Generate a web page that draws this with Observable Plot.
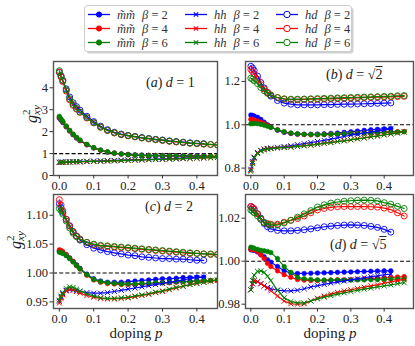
<!DOCTYPE html>
<html><head><meta charset="utf-8">
<script src="https://cdn.jsdelivr.net/npm/d3@7"></script>
<script src="https://cdn.jsdelivr.net/npm/@observablehq/plot@0.6"></script>
<style>
body{margin:0;background:#fff;}
#wrap{position:relative;width:415px;height:346px;overflow:hidden;font-family:"Liberation Serif","DejaVu Serif",serif;color:#222;}
.pl{position:absolute;}
.ann{position:absolute;font-size:14px;white-space:nowrap;transform:translate(0,-50%);}
.xlab{position:absolute;font-size:15px;white-space:nowrap;transform:translate(-50%,-50%);}
.ov{text-decoration:overline;}
</style></head><body><div id="wrap"></div><script>
// ---------- data ----------
const X2  = [0,0.005,0.01,0.02,0.03,0.04,0.05,0.06,0.08,0.10,0.12,0.14,0.16,0.18,0.20,0.22,0.24,0.26,0.28,0.30,0.32,0.34,0.36,0.38,0.40,0.42];
const X46 = [...X2, 0.44, 0.46];
const xTicks = [0,0.1,0.2,0.3,0.4];

// panel (a) d = 1
const a_mm_b2 = [2.62,2.52,2.42,2.22,2.03,1.86,1.71,1.59,1.40,1.26,1.15,1.07,1.02,0.98,0.96,0.94,0.93,0.92,0.915,0.91,0.905,0.90,0.90,0.895,0.895,0.89];
const a_mm_b4 = [2.65,2.55,2.45,2.24,2.04,1.87,1.72,1.60,1.41,1.26,1.15,1.07,1.02,0.98,0.95,0.93,0.92,0.91,0.905,0.90,0.895,0.89,0.89,0.885,0.885,0.88,0.88,0.875];
const a_mm_b6 = [2.70,2.58,2.47,2.26,2.06,1.89,1.74,1.62,1.42,1.27,1.16,1.08,1.02,0.98,0.95,0.93,0.92,0.91,0.90,0.895,0.89,0.89,0.885,0.88,0.88,0.875,0.875,0.87];
const a_hh_b2 = [0.60,0.61,0.61,0.62,0.62,0.63,0.63,0.64,0.65,0.66,0.67,0.68,0.69,0.70,0.71,0.72,0.73,0.74,0.75,0.76,0.77,0.78,0.79,0.80,0.81,0.82];
const a_hh_b4 = [0.59,0.60,0.60,0.61,0.61,0.62,0.62,0.62,0.63,0.64,0.65,0.66,0.67,0.68,0.69,0.70,0.71,0.72,0.73,0.74,0.75,0.76,0.77,0.78,0.79,0.80,0.81,0.82];
const a_hh_b6 = [0.60,0.60,0.61,0.61,0.62,0.62,0.63,0.63,0.64,0.645,0.65,0.66,0.67,0.68,0.69,0.70,0.71,0.72,0.73,0.74,0.75,0.76,0.77,0.78,0.79,0.80,0.81,0.82];
const a_hd_b2 = [4.70,4.52,4.33,3.95,3.58,3.32,3.14,2.98,2.70,2.46,2.25,2.09,1.97,1.89,1.83,1.78,1.73,1.69,1.65,1.62,1.58,1.55,1.52,1.49,1.47,1.45];
const a_hd_b4 = [4.72,4.50,4.28,3.85,3.45,3.20,3.03,2.88,2.62,2.40,2.20,2.05,1.94,1.86,1.81,1.76,1.71,1.67,1.63,1.60,1.56,1.53,1.50,1.47,1.45,1.43,1.41,1.39];
const a_hd_b6 = [4.78,4.56,4.35,3.90,3.50,3.24,3.06,2.90,2.64,2.41,2.21,2.06,1.95,1.87,1.82,1.77,1.72,1.68,1.64,1.61,1.57,1.54,1.51,1.48,1.46,1.44,1.42,1.40];

// panel (b) d = sqrt2
const b_mm_b2 = [1.045,1.043,1.040,1.035,1.025,1.012,1.000,0.990,0.975,0.965,0.960,0.957,0.956,0.956,0.957,0.958,0.960,0.962,0.965,0.968,0.971,0.974,0.977,0.979,0.981,0.983];
const b_mm_b4 = [1.025,1.024,1.022,1.018,1.012,1.005,0.997,0.990,0.977,0.967,0.961,0.957,0.955,0.954,0.954,0.955,0.956,0.957,0.958,0.960,0.961,0.962,0.964,0.965,0.966,0.967,0.968,0.969];
const b_mm_b6 = [1.005,1.006,1.006,1.005,1.002,0.998,0.993,0.988,0.977,0.968,0.962,0.958,0.956,0.955,0.955,0.955,0.956,0.957,0.958,0.959,0.960,0.961,0.962,0.964,0.965,0.966,0.967,0.968];
const b_hh_b2 = [0.795,0.830,0.850,0.872,0.882,0.888,0.891,0.893,0.896,0.899,0.903,0.908,0.913,0.918,0.923,0.928,0.934,0.940,0.946,0.952,0.957,0.962,0.967,0.972,0.976,0.980];
const b_hh_b4 = [0.790,0.825,0.848,0.870,0.880,0.886,0.889,0.891,0.894,0.896,0.898,0.901,0.904,0.907,0.911,0.915,0.919,0.923,0.927,0.931,0.936,0.940,0.945,0.949,0.954,0.958,0.963,0.967];
const b_hh_b6 = [0.785,0.822,0.846,0.868,0.879,0.885,0.888,0.890,0.893,0.895,0.897,0.900,0.903,0.906,0.910,0.914,0.918,0.922,0.926,0.930,0.935,0.939,0.944,0.948,0.953,0.957,0.962,0.966];
const b_hd_b2 = [1.270,1.262,1.250,1.225,1.195,1.170,1.148,1.132,1.112,1.100,1.095,1.092,1.092,1.092,1.092,1.093,1.093,1.094,1.095,1.095,1.096,1.097,1.098,1.099,1.100,1.101];
const b_hd_b4 = [1.255,1.245,1.235,1.210,1.185,1.165,1.150,1.138,1.125,1.118,1.116,1.116,1.117,1.118,1.118,1.119,1.120,1.121,1.122,1.123,1.124,1.125,1.126,1.127,1.128,1.129,1.130,1.131];
const b_hd_b6 = [1.215,1.210,1.203,1.190,1.172,1.157,1.145,1.136,1.126,1.120,1.118,1.118,1.119,1.120,1.121,1.122,1.123,1.124,1.125,1.126,1.127,1.128,1.129,1.130,1.131,1.132,1.134,1.135];

// panel (c) d = 2
const c_mm_b2 = [1.038,1.037,1.035,1.031,1.026,1.020,1.014,1.008,0.998,0.990,0.986,0.984,0.984,0.984,0.985,0.986,0.987,0.988,0.989,0.990,0.990,0.991,0.992,0.992,0.993,0.993];
const c_mm_b4 = [1.040,1.039,1.037,1.032,1.026,1.020,1.013,1.007,0.996,0.988,0.984,0.982,0.981,0.980,0.980,0.980,0.981,0.981,0.982,0.983,0.983,0.984,0.985,0.985,0.986,0.986,0.987,0.987];
const c_mm_b6 = [1.036,1.035,1.034,1.030,1.025,1.019,1.013,1.007,0.997,0.989,0.985,0.983,0.982,0.981,0.981,0.981,0.982,0.982,0.983,0.983,0.984,0.985,0.985,0.986,0.986,0.987,0.987,0.988];
const c_hh_b2 = [0.951,0.958,0.964,0.970,0.971,0.970,0.969,0.968,0.966,0.965,0.965,0.966,0.968,0.970,0.972,0.974,0.976,0.978,0.980,0.982,0.984,0.986,0.988,0.990,0.992,0.993];
const c_hh_b4 = [0.948,0.956,0.962,0.969,0.972,0.971,0.968,0.965,0.961,0.958,0.956,0.955,0.955,0.956,0.957,0.959,0.961,0.963,0.966,0.968,0.971,0.974,0.977,0.980,0.982,0.984,0.986,0.987];
const c_hh_b6 = [0.953,0.960,0.966,0.973,0.976,0.975,0.972,0.969,0.964,0.960,0.957,0.956,0.956,0.957,0.958,0.960,0.962,0.964,0.967,0.969,0.972,0.975,0.977,0.980,0.982,0.984,0.986,0.988];
const c_hd_b2 = [1.120,1.113,1.105,1.093,1.082,1.072,1.064,1.057,1.049,1.043,1.040,1.037,1.035,1.033,1.031,1.030,1.028,1.027,1.026,1.025,1.025,1.024,1.024,1.023,1.022,1.022];
const c_hd_b4 = [1.127,1.118,1.108,1.093,1.081,1.071,1.064,1.059,1.053,1.049,1.047,1.046,1.045,1.044,1.043,1.042,1.041,1.040,1.039,1.038,1.037,1.036,1.035,1.034,1.034,1.033,1.032,1.032];
const c_hd_b6 = [1.112,1.108,1.102,1.090,1.078,1.069,1.063,1.058,1.053,1.050,1.048,1.047,1.046,1.045,1.044,1.043,1.042,1.041,1.040,1.039,1.038,1.037,1.036,1.035,1.034,1.033,1.033,1.032];

// panel (d) d = sqrt5
const d_mm_b2 = [1.0053,1.0052,1.0050,1.0043,1.0030,1.0020,1.0006,0.9995,0.9975,0.9955,0.9945,0.9943,0.9943,0.9944,0.9945,0.9946,0.9947,0.9948,0.9949,0.9950,0.9951,0.9952,0.9953,0.9954,0.9955,0.9955];
const d_mm_b4 = [1.0055,1.0055,1.0052,1.0045,1.0030,1.0012,0.9990,0.9975,0.9955,0.9937,0.9925,0.9915,0.9912,0.9910,0.9910,0.9911,0.9912,0.9913,0.9914,0.9915,0.9916,0.9918,0.9920,0.9921,0.9922,0.9924,0.9926,0.9928];
const d_mm_b6 = [1.0065,1.0062,1.0060,1.0055,1.0050,1.0048,1.0045,1.0040,1.0012,0.9975,0.9948,0.9925,0.9918,0.9915,0.9913,0.9912,0.9912,0.9912,0.9912,0.9912,0.9913,0.9913,0.9914,0.9914,0.9915,0.9916,0.9917,0.9918];
const d_hh_b2 = [0.9867,0.9895,0.9908,0.9905,0.9895,0.9885,0.9878,0.9872,0.9865,0.9862,0.9862,0.9865,0.9872,0.9880,0.9886,0.9892,0.9898,0.9903,0.9908,0.9913,0.9918,0.9923,0.9928,0.9932,0.9937,0.9940];
const d_hh_b4 = [0.9867,0.9895,0.9910,0.9905,0.9895,0.9885,0.9875,0.9862,0.9838,0.9815,0.9802,0.9800,0.9802,0.9815,0.9828,0.9838,0.9847,0.9855,0.9862,0.9867,0.9873,0.9879,0.9885,0.9890,0.9898,0.9904,0.9910,0.9915];
const d_hh_b6 = [0.9867,0.9910,0.9935,0.9953,0.9955,0.9948,0.9930,0.9910,0.9865,0.9830,0.9812,0.9806,0.9806,0.9815,0.9825,0.9833,0.9840,0.9847,0.9853,0.9859,0.9865,0.9870,0.9875,0.9880,0.9885,0.9890,0.9895,0.9900];
const d_hd_b2 = [1.0254,1.0248,1.0240,1.0220,1.0200,1.0175,1.0160,1.0150,1.0143,1.0141,1.0141,1.0143,1.0146,1.0150,1.0155,1.0160,1.0163,1.0166,1.0168,1.0169,1.0168,1.0166,1.0162,1.0157,1.0148,1.0135];
const d_hd_b4 = [1.0254,1.0250,1.0243,1.0220,1.0195,1.0180,1.0175,1.0172,1.0172,1.0181,1.0190,1.0198,1.0210,1.0225,1.0238,1.0245,1.0250,1.0253,1.0254,1.0254,1.0254,1.0254,1.0253,1.0251,1.0247,1.0240,1.0225,1.0210];
const d_hd_b6 = [1.0238,1.0232,1.0225,1.0210,1.0195,1.0180,1.0172,1.0168,1.0168,1.0178,1.0190,1.0205,1.0220,1.0235,1.0252,1.0262,1.0270,1.0275,1.0279,1.0281,1.0283,1.0284,1.0283,1.0280,1.0272,1.0265,1.0255,1.0245];

const colors = {b2:"#0000ff", b4:"#ff0000", b6:"#008000"};
const betas = ["b2","b4","b6"];
const kinds = ["mm","hh","hd"];

// ---------- layout ----------
const wrap = document.getElementById("wrap");
const FONT = '"Liberation Serif","DejaVu Serif",serif';

function rows(xs, vs){ const n = Math.min(xs.length, vs.length); const out=[]; for(let i=0;i<n;i++) out.push({p:xs[i], v:vs[i]}); return out; }

const panels = [
  {frame:[52.5,216.5,60.5,174.5], xdom:[-0.017,0.46], ydom:[0,5.2], yticks:[0,1,2,3,4], yfmt:d3.format("d"),
   data:{mm:[a_mm_b2,a_mm_b4,a_mm_b6], hh:[a_hh_b2,a_hh_b4,a_hh_b6], hd:[a_hd_b2,a_hd_b4,a_hd_b6]}},
  {frame:[244.5,412.5,60.5,174.5], xdom:[-0.016,0.488], ydom:[0.766,1.292], yticks:[0.8,1.0,1.2], yfmt:d3.format(".1f"),
   data:{mm:[b_mm_b2,b_mm_b4,b_mm_b6], hh:[b_hh_b2,b_hh_b4,b_hh_b6], hd:[b_hd_b2,b_hd_b4,b_hd_b6]}},
  {frame:[52.5,216.5,193.5,307.5], xdom:[-0.017,0.46], ydom:[0.9385,1.136], yticks:[0.95,1.00,1.05,1.10], yfmt:d3.format(".2f"),
   data:{mm:[c_mm_b2,c_mm_b4,c_mm_b6], hh:[c_hh_b2,c_hh_b4,c_hh_b6], hd:[c_hd_b2,c_hd_b4,c_hd_b6]}},
  {frame:[244.5,412.5,193.5,307.5], xdom:[-0.016,0.488], ydom:[0.978,1.031], yticks:[0.98,1.00,1.02], yfmt:d3.format(".2f"),
   data:{mm:[d_mm_b2,d_mm_b4,d_mm_b6], hh:[d_hh_b2,d_hh_b4,d_hh_b6], hd:[d_hd_b2,d_hd_b4,d_hd_b6]}}
];

const ML=46, MR=2, MT=2, MB=22;
for (const cfg of panels) {
  const [x0,x1,y0,y1] = cfg.frame;
  const W = x1-x0+ML+MR, H = y1-y0+MT+MB;
  const marks = [Plot.ruleY([1], {stroke:"#000", strokeWidth:1.1, strokeDasharray:"4,2.2"})];
  for (const k of kinds) {
    cfg.data[k].forEach((vals, i) => {
      const b = betas[i], col = colors[b];
      const d = rows(i === 0 ? X2 : X46, vals);
      marks.push(Plot.line(d, {x:"p", y:"v", stroke:col, strokeWidth:1.2, clip:true}));
      if (k === "mm") marks.push(Plot.dot(d, {x:"p", y:"v", r:2.3, fill:col, stroke:col, strokeWidth:0.6, clip:true}));
      if (k === "hh") marks.push(Plot.dot(d, {x:"p", y:"v", r:2.4, symbol:"times", stroke:col, strokeWidth:1, clip:true}));
      if (k === "hd") marks.push(Plot.dot(d, {x:"p", y:"v", r:3.0, fill:"none", stroke:col, strokeWidth:0.9, clip:true}));
    });
  }
  marks.push(Plot.frame({stroke:"#555", strokeWidth:1.4}));
  marks.push(Plot.axisX({ticks:xTicks, tickFormat:d3.format(".1f"), tickSize:3.5, tickPadding:2, label:null, stroke:"#333"}));
  marks.push(Plot.axisY({ticks:cfg.yticks, tickFormat:cfg.yfmt, tickSize:3.5, tickPadding:2, label:null, stroke:"#333"}));
  const svg = Plot.plot({
    width:W, height:H, marginLeft:ML, marginRight:MR, marginTop:MT, marginBottom:MB,
    x:{domain:cfg.xdom}, y:{domain:cfg.ydom},
    style:{fontFamily:FONT, fontSize:"12.5px", background:"transparent", color:"#222", overflow:"visible"},
    marks
  });
  svg.classList.add("pl");
  svg.style.left = (x0-ML)+"px";
  svg.style.top = (y0-MT)+"px";
  wrap.appendChild(svg);
}

// ---------- text overlays ----------
function addHTML(cls, left, top, html){
  const d = document.createElement("div"); d.className = cls; d.style.left = left+"px"; d.style.top = top+"px"; d.innerHTML = html; wrap.appendChild(d);
}
addHTML("xlab", 136, 333, 'doping <i>p</i>');
addHTML("xlab", 330, 333, 'doping <i>p</i>');
addHTML("ann", 146, 83, '(<i>a</i>) <i>d</i> = 1');
addHTML("ann", 326, 75, '(<i>b</i>) <i>d</i> = √<span class="ov">2</span>');
addHTML("ann", 145, 207, '(<i>c</i>) <i>d</i> = 2');
addHTML("ann", 330, 245, '(<i>d</i>) <i>d</i> = √<span class="ov">5</span>');

// ---------- overlay svg: y labels + legend ----------
const ov = d3.create("svg").attr("width",415).attr("height",346).attr("class","pl")
  .style("left","0px").style("top","0px").style("font-family",FONT).style("pointer-events","none");
function yLabel(cx, cy){
  const t = ov.append("text").attr("transform",`translate(${cx},${cy}) rotate(-90)`).attr("text-anchor","middle")
    .attr("dy","0.3em").attr("fill","#222").style("font-size","16px");
  t.append("tspan").attr("font-style","italic").text("g");
  t.append("tspan").attr("dy",-6.5).style("font-size","11px").text("2");
  t.append("tspan").attr("dx",-5.5).attr("dy",10).style("font-size","11px").attr("font-style","italic").text("xy");
}
yLabel(32, 114);
yLabel(16, 240);

ov.append("rect").attr("x",86.5).attr("y",7.5).attr("width",267).attr("height",46).attr("rx",3).attr("fill","#aaa").attr("opacity",0.55);
ov.append("rect").attr("x",84.5).attr("y",5.5).attr("width",267).attr("height",46).attr("rx",3).attr("fill","#fff").attr("stroke","#ccc").attr("stroke-width",1);
const colX = [88, 185, 276];
const rowY = [14.5, 28.5, 42.5];
const kindName = {mm:"m̃m̃", hh:"hh", hd:"hd"};
kinds.forEach((k, ci) => {
  betas.forEach((b, ri) => {
    const x = colX[ci], y = rowY[ri], col = colors[b];
    ov.append("line").attr("x1",x).attr("x2",x+22).attr("y1",y).attr("y2",y).attr("stroke",col).attr("stroke-width",1.3);
    const cx = x+11;
    if (k === "mm") ov.append("circle").attr("cx",cx).attr("cy",y).attr("r",2.6).attr("fill",col).attr("stroke",col);
    if (k === "hh") ov.append("path").attr("d",`M${cx-2.2},${y-2.2}L${cx+2.2},${y+2.2}M${cx-2.2},${y+2.2}L${cx+2.2},${y-2.2}`).attr("stroke",col).attr("stroke-width",1.1);
    if (k === "hd") ov.append("circle").attr("cx",cx).attr("cy",y).attr("r",3.2).attr("fill","#fff").attr("stroke",col).attr("stroke-width",1);
    const t = ov.append("text").attr("x",x+29).attr("y",y).attr("dy","0.35em").attr("fill","#333").style("font-size","12.5px");
    t.append("tspan").attr("font-style","italic").text(kindName[k]);
    t.append("tspan").attr("dx",7).attr("font-style","italic").text("β");
    t.append("tspan").text(" = " + ({b2:"2",b4:"4",b6:"6"})[b]);
  });
});
wrap.appendChild(ov.node());
</script></body></html>
